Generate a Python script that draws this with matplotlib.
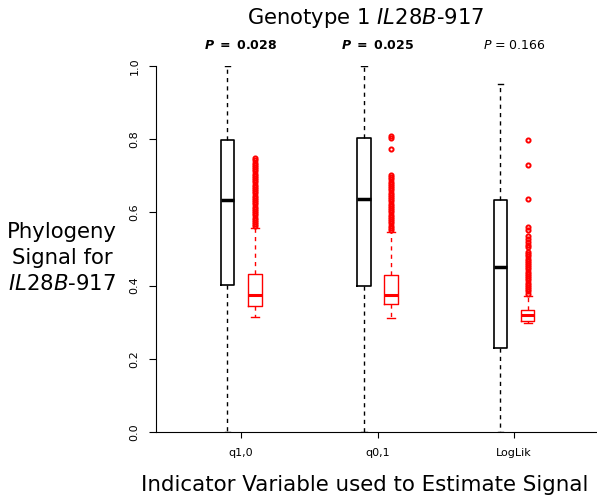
import matplotlib
matplotlib.use("Agg")
import matplotlib.pyplot as plt

# observed signal (black) per indicator variable
groups = ["q1,0", "q0,1", "LogLik"]
obs_min = [0.0, 0.0, 0.0]
obs_q1 = [0.402, 0.398, 0.230]
obs_med = [0.634, 0.637, 0.451]
obs_q3 = [0.798, 0.803, 0.634]
obs_max = [1.0, 1.0, 0.951]

# null distributions (red)
null_lo = [0.315, 0.312, 0.297]
null_q1 = [0.345, 0.350, 0.304]
null_med = [0.374, 0.374, 0.319]
null_q3 = [0.432, 0.429, 0.333]
null_hi = [0.557, 0.547, 0.372]
null_out_q10 = [0.562, 0.568, 0.574, 0.580, 0.586, 0.592, 0.598, 0.604, 0.610,
                0.616, 0.622, 0.628, 0.634, 0.640, 0.646, 0.652, 0.658, 0.664,
                0.670, 0.676, 0.682, 0.688, 0.694, 0.700, 0.706, 0.712, 0.718,
                0.724, 0.730, 0.736, 0.742, 0.748]
null_out_q01 = [0.552, 0.558, 0.564, 0.570, 0.576, 0.582, 0.588, 0.594, 0.600,
                0.606, 0.612, 0.618, 0.624, 0.630, 0.636, 0.642, 0.648, 0.654,
                0.660, 0.666, 0.672, 0.678, 0.684, 0.690, 0.696, 0.702, 0.772,
                0.803, 0.809]
null_out_ll = [0.378, 0.384, 0.390, 0.396, 0.402, 0.408, 0.414, 0.420, 0.426,
               0.432, 0.438, 0.444, 0.450, 0.456, 0.462, 0.468, 0.474, 0.480,
               0.486, 0.492, 0.505, 0.512, 0.520, 0.528, 0.535, 0.552, 0.561,
               0.636, 0.730, 0.798]
null_out = [null_out_q10, null_out_q01, null_out_ll]

p_labels = [r"$\mathbfit{P}$ $\mathbf{=\ 0.028}$",
            r"$\mathbfit{P}$ $\mathbf{=\ 0.025}$",
            r"$\mathit{P}$ = 0.166"]

fig = plt.figure(figsize=(5.97, 4.96), dpi=100)
ax = fig.add_axes([156 / 597, 64 / 496, 441 / 597, 366 / 496])

obs_stats = [dict(whislo=a, q1=b, med=c, q3=d, whishi=e, fliers=[])
             for a, b, c, d, e in zip(obs_min, obs_q1, obs_med, obs_q3, obs_max)]
null_stats = [dict(whislo=a, q1=b, med=c, q3=d, whishi=e, fliers=f)
              for a, b, c, d, e, f in zip(null_lo, null_q1, null_med, null_q3, null_hi, null_out)]

pos = [1, 2, 3]
ax.bxp(obs_stats, positions=[p - 0.1 for p in pos], widths=0.1, capwidths=0.04,
       boxprops=dict(color="black", lw=1.2),
       medianprops=dict(color="black", lw=2.5),
       whiskerprops=dict(color="black", lw=1.0, ls=(0, (3, 3))),
       capprops=dict(color="black", lw=1.0))
ax.bxp(null_stats, positions=[p + 0.1 for p in pos], widths=0.1, capwidths=0.06,
       boxprops=dict(color="red", lw=1.0),
       medianprops=dict(color="red", lw=2.2),
       whiskerprops=dict(color="red", lw=1.0, ls=(0, (3, 3))),
       capprops=dict(color="red", lw=1.0),
       flierprops=dict(marker="o", markersize=3.0, markerfacecolor="none",
                       markeredgecolor="red", markeredgewidth=1.4))

ax.set_xlim(0.377, 3.608)
ax.set_ylim(0, 1)
ax.spines["top"].set_visible(False)
ax.spines["right"].set_visible(False)
ax.set_xticks(pos)
ax.set_xticklabels(groups, fontsize=8)
ax.set_yticks([0, 0.2, 0.4, 0.6, 0.8, 1.0])
ax.set_yticklabels(["0.0", "0.2", "0.4", "0.6", "0.8", "1.0"], fontsize=8,
                   rotation=90, va="center")
ax.tick_params(axis="x", length=4.5, pad=7)
ax.tick_params(axis="y", length=5, pad=7)

for p, lab in zip(pos, p_labels):
    ax.text(p, 1.057, lab, ha="center", va="center", fontsize=9, clip_on=False)

fig.text(366 / 597, 1 - 18 / 496, r"Genotype 1 $\mathit{IL28B}$-917",
         ha="center", va="center", fontsize=15.2)
fig.text(365 / 597, 1 - 485 / 496, "Indicator Variable used to Estimate Signal",
         ha="center", va="center", fontsize=15.4)
fig.text(62 / 597, 1 - 258 / 496, "Phylogeny\nSignal for\n$\\mathit{IL28B}$-917",
         ha="center", va="center", fontsize=15.3, linespacing=1.38)

fig.savefig("out.png", dpi=100)
